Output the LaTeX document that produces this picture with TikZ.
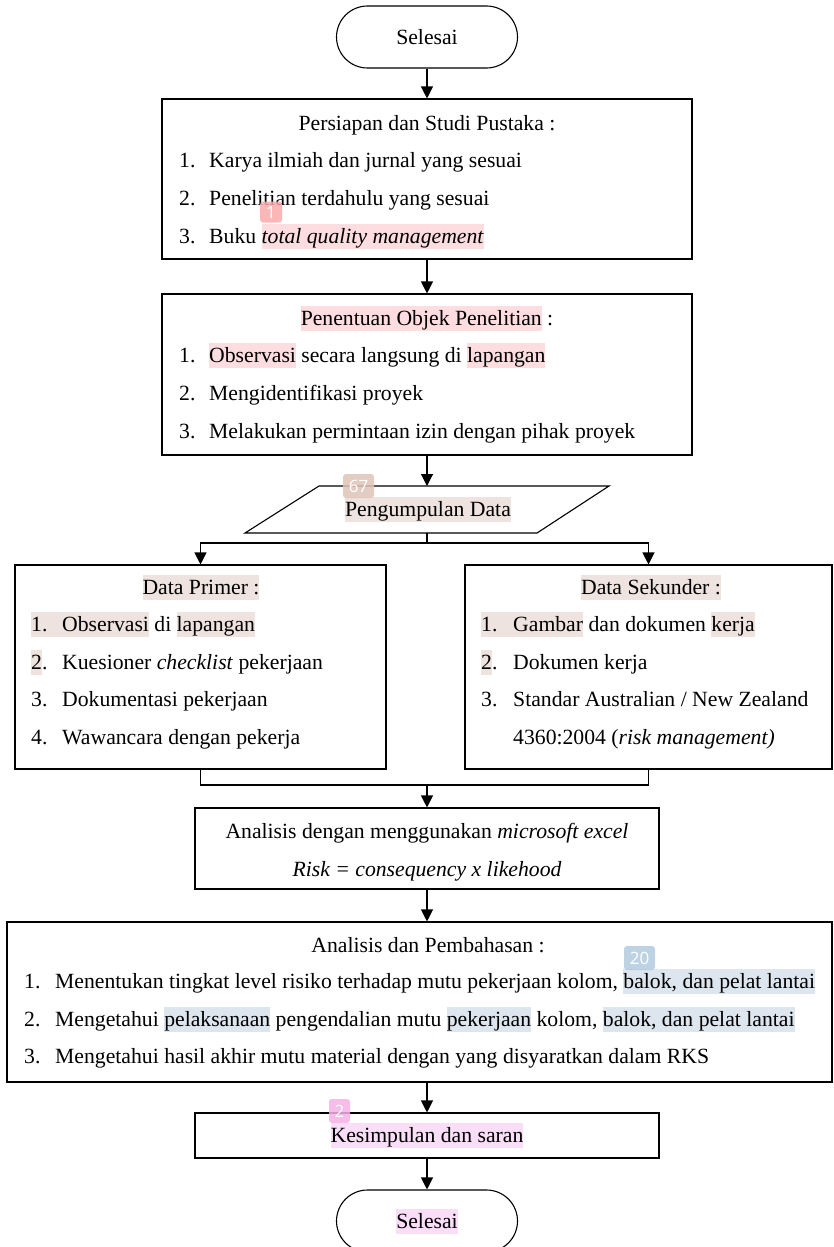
\documentclass[tikz,border=0pt]{standalone}
\usepackage{fontspec}
\setmainfont{Liberation Serif}
\newfontfamily\badgefont{Open Sans}
\usetikzlibrary{arrows.meta}
\definecolor{hlpink}{RGB}{253,221,223}
\definecolor{badgeA}{RGB}{248,170,170}
\definecolor{hlbeige}{RGB}{238,227,222}
\definecolor{badgeB}{RGB}{222,196,184}
\definecolor{hlblue}{RGB}{221,229,238}
\definecolor{badgeC}{RGB}{178,203,222}
\definecolor{hlmag}{RGB}{250,222,247}
\definecolor{badgeD}{RGB}{244,178,232}
\newcommand{\hlt}[2]{{\setlength{\fboxsep}{0pt}\colorbox{#1}{\rule[-0.27em]{0pt}{1.15em}#2}}}
\begin{document}
\begin{tikzpicture}[x=1pt,y=-1pt,
  font=\fontsize{21.7}{26}\selectfont,
  box/.style={draw, line width=1.1pt, rectangle, inner sep=0pt},
  term/.style={draw, line width=1.1pt, rounded corners=31pt, inner sep=0pt, minimum width=181pt, minimum height=62pt},
  txt/.style={inner sep=0pt, anchor=base},
  itm/.style={inner sep=0pt, anchor=base west},
  arr/.style={-{Triangle[length=12pt,width=12pt]}, line width=1.1pt},
  conn/.style={line width=1.1pt},
  badge/.style={rectangle, rounded corners=3pt, inner sep=0pt, text=white, fill opacity=0.85, text opacity=1, font=\badgefont\fontsize{17}{17}\selectfont}]
\useasboundingbox (0,0) rectangle (833,1247);

% shapes
\node[term] (t1) at (427,37) {};
\node[box, minimum width=530pt, minimum height=160pt] (b1) at (427,179) {};
\node[box, minimum width=530pt, minimum height=161pt] (b2) at (427,374.5) {};
\draw[conn] (319,486) -- (609,486) -- (537,533) -- (245,533) -- cycle;
\coordinate (pdtop) at (427,486);
\coordinate (pdbot) at (427,533);
\coordinate (split) at (427,543);
\node[box, minimum width=371pt, minimum height=204pt] (bL) at (200.5,667) {};
\node[box, minimum width=367pt, minimum height=204pt] (bR) at (648.5,667) {};
\coordinate (merge) at (427,785);
\node[box, minimum width=464pt, minimum height=81pt] (b3) at (427,848.5) {};
\node[box, minimum width=825pt, minimum height=160pt] (b4) at (419.5,1002) {};
\node[box, minimum width=464pt, minimum height=45pt] (b5) at (427,1135.5) {};
\node[term] (t2) at (427,1221) {};

% connectors
\draw[arr] (t1.south) -- (b1.north);
\draw[arr] (b1.south) -- (b2.north);
\draw[arr] (b2.south) -- (pdtop);
\draw[conn] (pdbot) -- (split);
\draw[arr] (split) -| (bL.north);
\draw[arr] (split) -| (bR.north);
\draw[conn] (bL.south) |- (merge) -| (bR.south);
\draw[arr] (merge) -- (b3.north);
\draw[arr] (b3.south) -- (b3.south |- b4.north);
\draw[arr] (b3.south |- b4.south) -- (b5.north);
\draw[arr] (b5.south) -- (t2.north);

% texts
\node[txt] (t1t) at (427,45) {Selesai};

\node[txt] (b1t) at (427,130) {Persiapan dan Studi Pustaka :};
\node[itm] (b1n1) at (179,167) {1.};
\node[itm] (b1i1) at (209,167) {Karya ilmiah dan jurnal yang sesuai};
\node[itm] (b1n2) at (179,205) {2.};
\node[itm] (b1i2) at (209,205) {Penelitian terdahulu yang sesuai};
\node[itm] (b1n3) at (179,243) {3.};
\node[itm] (b1i3) at (209,243) {Buku \hlt{hlpink}{\textit{total quality management}}};

\node[txt] (b2t) at (427,325) {\hlt{hlpink}{Penentuan Objek Penelitian} :};
\node[itm] (b2n1) at (179,362) {1.};
\node[itm] (b2i1) at (209,362) {\hlt{hlpink}{Observasi} secara langsung di \hlt{hlpink}{lapangan}};
\node[itm] (b2n2) at (179,400) {2.};
\node[itm] (b2i2) at (209,400) {Mengidentifikasi proyek};
\node[itm] (b2n3) at (179,438) {3.};
\node[itm] (b2i3) at (209,438) {Melakukan permintaan izin dengan pihak proyek};

\node[txt] (pd) at (428,516) {\hlt{hlbeige}{Pengumpulan Data}};

\node[txt] (bLt) at (201,594) {\hlt{hlbeige}{Data Primer :}};
\node[itm] (bLn1) at (31,631) {\hlt{hlbeige}{\makebox[31pt][l]{1.}}};
\node[itm] (bLi1) at (62,631) {\hlt{hlbeige}{Observasi} di \hlt{hlbeige}{lapangan}};
\node[itm] (bLn2) at (31,669) {\hlt{hlbeige}{2}.};
\node[itm] (bLi2) at (62,669) {Kuesioner \textit{checklist} pekerjaan};
\node[itm] (bLn3) at (31,706) {3.};
\node[itm] (bLi3) at (62,706) {Dokumentasi pekerjaan};
\node[itm] (bLn4) at (31,744) {4.};
\node[itm] (bLi4) at (62,744) {Wawancara dengan pekerja};

\node[txt] (bRt) at (651,594) {\hlt{hlbeige}{Data Sekunder :}};
\node[itm] (bRn1) at (481,631) {\hlt{hlbeige}{\makebox[32pt][l]{1.}}};
\node[itm] (bRi1) at (513,631) {\hlt{hlbeige}{Gambar} dan dokumen \hlt{hlbeige}{kerja}};
\node[itm] (bRn2) at (481,669) {\hlt{hlbeige}{2}.};
\node[itm] (bRi2) at (513,669) {Dokumen kerja};
\node[itm] (bRn3) at (481,706) {3.};
\node[itm] (bRi3) at (513,706) {Standar Australian / New Zealand};
\node[itm] (bRi4) at (513,744) {4360:2004 (\textit{risk management)}};

\node[txt] (b3a) at (427,838) {Analisis dengan menggunakan \textit{microsoft excel}};
\node[txt] (b3b) at (427,876) {\textit{Risk = consequency x likehood}};

\node[txt] (b4t) at (428,952) {Analisis dan Pembahasan :};
\node[itm] (b4n1) at (24,988) {1.};
\node[itm] (b4i1) at (55,988) {Menentukan tingkat level risiko terhadap mutu pekerjaan kolom, \hlt{hlblue}{balok, dan pelat lantai}};
\node[itm] (b4n2) at (24,1026) {2.};
\node[itm] (b4i2) at (55,1026) {Mengetahui \hlt{hlblue}{pelaksanaan} pengendalian mutu \hlt{hlblue}{pekerjaan} kolom, \hlt{hlblue}{balok, dan pelat lantai}};
\node[itm] (b4n3) at (24,1063) {3.};
\node[itm] (b4i3) at (55,1063) {Mengetahui hasil akhir mutu material dengan yang disyaratkan dalam RKS};

\node[txt] (b5t) at (427,1142) {\hlt{hlmag}{Kesimpulan dan saran}};
\node[txt] (t2t) at (427,1228) {\hlt{hlmag}{Selesai}};

% badges
\node[badge, fill=badgeA, minimum width=22pt, minimum height=21pt] (bd1) at (271,212) {1};
\node[badge, fill=badgeB, minimum width=31pt, minimum height=24pt] (bd67) at (358.5,486) {67};
\node[badge, fill=badgeC, minimum width=31pt, minimum height=24pt] (bd20) at (639.5,958) {20};
\node[badge, fill=badgeD, minimum width=21pt, minimum height=24pt] (bd2) at (339.5,1111) {2};
\end{tikzpicture}
\end{document}
